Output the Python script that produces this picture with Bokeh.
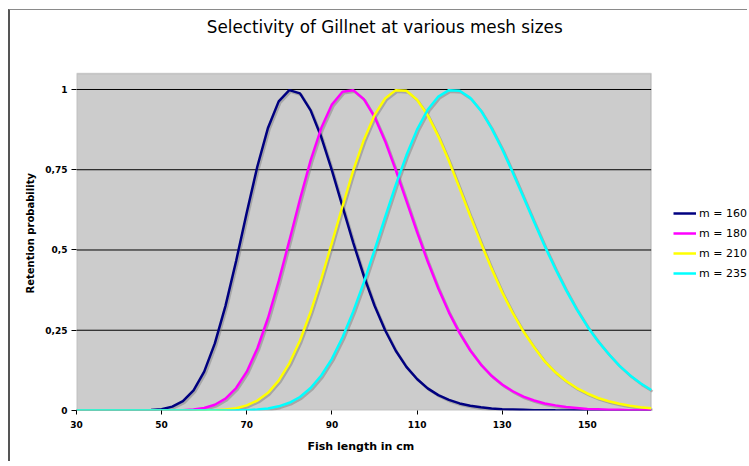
import numpy as np
from bokeh.plotting import figure
from bokeh.models import (BoxAnnotation, FixedTicker, Label, Legend, LegendItem,
                          Range1d, Title)
from bokeh.embed import file_html
from bokeh.resources import INLINE

# ---------------- data ----------------
lengths = [30, 32.5, 35, 37.5, 40, 42.5, 45, 47.5, 50, 52.5, 55, 57.5, 60, 62.5, 65,
           67.5, 70, 72.5, 75, 77.5, 80, 82.5, 85, 87.5, 90, 92.5, 95, 97.5, 100,
           102.5, 105, 107.5, 110, 112.5, 115, 117.5, 120, 122.5, 125, 127.5, 130,
           132.5, 135, 137.5, 140, 142.5, 145, 147.5, 150, 152.5, 155, 157.5, 160,
           162.5, 165]

r160 = [0, 0, 0, 0, 0, 0.0001, 0.0003, 0.0012, 0.004, 0.012, 0.029, 0.063, 0.121,
        0.209, 0.326, 0.466, 0.617, 0.761, 0.881, 0.963, 0.998, 0.988, 0.935, 0.852,
        0.748, 0.635, 0.523, 0.419, 0.327, 0.250, 0.186, 0.136, 0.098, 0.069, 0.048,
        0.033, 0.022, 0.015, 0.010, 0.006, 0.004, 0.003, 0.002, 0.001, 0.001, 0.0004,
        0.0003, 0.0002, 0.0001, 0, 0, 0, 0, 0, 0]

r180 = [0, 0, 0, 0, 0, 0, 0, 0, 0.0001, 0.0003, 0.001, 0.003, 0.008, 0.018, 0.037,
        0.070, 0.121, 0.194, 0.289, 0.403, 0.529, 0.658, 0.779, 0.880, 0.953, 0.993,
        0.998, 0.970, 0.915, 0.839, 0.749, 0.653, 0.556, 0.464, 0.380, 0.305, 0.241,
        0.187, 0.143, 0.108, 0.081, 0.060, 0.043, 0.031, 0.022, 0.016, 0.011, 0.008,
        0.005, 0.004, 0.002, 0.002, 0.001, 0.001, 0.0005]

r210 = [0, 0, 0, 0, 0, 0, 0, 0, 0, 0, 0, 0.0001, 0.0004, 0.001, 0.003, 0.007, 0.016,
        0.031, 0.055, 0.093, 0.147, 0.218, 0.307, 0.410, 0.522, 0.637, 0.747, 0.843,
        0.920, 0.972, 0.998, 0.996, 0.968, 0.920, 0.854, 0.777, 0.692, 0.606, 0.522,
        0.442, 0.368, 0.303, 0.246, 0.197, 0.153, 0.119, 0.092, 0.070, 0.053, 0.039,
        0.029, 0.021, 0.015, 0.010, 0.007]

r235 = [0, 0, 0, 0, 0, 0, 0, 0, 0, 0, 0, 0, 0, 0.0001, 0.0002, 0.0005, 0.001, 0.003,
        0.006, 0.013, 0.024, 0.042, 0.070, 0.109, 0.161, 0.228, 0.308, 0.399, 0.499,
        0.602, 0.703, 0.795, 0.875, 0.937, 0.978, 0.998, 0.996, 0.974, 0.934, 0.879,
        0.814, 0.741, 0.664, 0.587, 0.512, 0.441, 0.375, 0.315, 0.262, 0.216, 0.176,
        0.140, 0.110, 0.085, 0.064]

series_values = [r160, r180, r210, r235]
series_names = ["m = 160", "m = 180", "m = 210", "m = 235"]
series_colors = ["#000080", "#FF00FF", "#FFFF00", "#00FFFF"]

x_min, x_max = 30, 165          # extent of the grey plot area (fish length)
y_min, y_max = 0, 1.05          # extent of the grey plot area (probability)
x_ticks = [30, 50, 70, 90, 110, 130, 150]
x_tick_labels = ["30", "50", "70", "90", "110", "130", "150"]
y_ticks = [0, 0.25, 0.5, 0.75, 1]
y_tick_labels = ["0", "0,25", "0,5", "0,75", "1"]

title_text = "Selectivity of Gillnet at various mesh sizes"
x_title = "Fish length in cm"
y_title = "Retention probability"

FONT = "DejaVu Sans"

# ---------------- figure ----------------
# The frame is extended to the right and upwards so that the legend and the
# chart title (outside the grey plot area) are drawn inside it.
p = figure(width=739, height=452, output_backend="svg", toolbar_location=None,
           x_range=Range1d(x_min, 188.1), y_range=Range1d(y_min, 1.2461),
           min_border_left=66, min_border_right=0, min_border_top=0,
           min_border_bottom=52)
p.styles = {"margin-left": "8px", "margin-top": "9px",
            "border-left": "2px solid #555555", "border-top": "1px solid #8a8a8a"}
p.background_fill_color = "white"
p.border_fill_color = "white"
p.outline_line_color = None

# grey plot area
p.add_layout(BoxAnnotation(left=x_min, right=x_max, bottom=y_min, top=y_max,
                           fill_color="#cccccc", fill_alpha=1.0,
                           line_color="#808080", line_width=1.5, level="underlay"))

# horizontal grid lines, limited to the grey area
p.xgrid.visible = False
p.ygrid.visible = False
grid_y = y_ticks[1:]
p.segment(x0=[x_min] * len(grid_y), x1=[x_max] * len(grid_y), y0=grid_y, y1=grid_y,
          line_color="black", line_width=1)

# axes
p.xaxis.ticker = FixedTicker(ticks=x_ticks, minor_ticks=[])
p.xaxis.major_label_overrides = dict(zip(x_ticks, x_tick_labels))
p.yaxis.ticker = FixedTicker(ticks=y_ticks, minor_ticks=[])
p.yaxis.major_label_overrides = dict(zip(y_ticks, y_tick_labels))
for ax in (p.xaxis[0], p.yaxis[0]):
    ax.major_label_text_font = FONT
    ax.major_label_text_font_size = "9px"
    ax.major_label_text_font_style = "bold"
    ax.major_label_text_color = "black"
    ax.major_tick_in = 0
    ax.major_tick_line_color = "black"
    ax.minor_tick_line_color = None
    ax.axis_line_color = None
p.xaxis.major_tick_out = 4
p.yaxis.major_tick_out = 5
p.xaxis.major_label_standoff = 6
p.yaxis.major_label_standoff = 4

# axis titles as side titles
xtitle = Title(text=x_title, align="left", offset=231, text_font=FONT,
               text_font_size="11px", text_font_style="bold", text_color="black",
               standoff=15)
p.add_layout(xtitle, "below")
ytitle = Title(text=y_title, align="left", offset=117, text_font=FONT,
               text_font_size="10px", text_font_style="bold", text_color="black",
               standoff=13)
p.add_layout(ytitle, "left")

# chart title
p.add_layout(Label(x=102.4, y=1.1953, text=title_text, text_align="center",
                   text_baseline="middle", text_font=FONT, text_font_size="16.8px",
                   text_color="black"))

# lines with soft shadow
x_arr = np.array(lengths, dtype=float)
items = []
for vals in series_values:
    y_arr = np.array(vals, dtype=float)
    p.line(x_arr + 0.35, y_arr - 0.005, line_color="#777777", line_alpha=0.45,
           line_width=2.5)
for vals, name, color in zip(series_values, series_names, series_colors):
    r = p.line(x_arr, np.array(vals, dtype=float), line_color=color, line_width=2.5)
    items.append(LegendItem(label=name, renderers=[r]))

legend = Legend(items=items, location=(597, 127))
legend.border_line_alpha = 0
legend.background_fill_alpha = 0
legend.padding = 0
legend.margin = 0
legend.spacing = 0
legend.glyph_width = 23
legend.glyph_height = 20
legend.label_height = 20
legend.label_standoff = 3
legend.label_text_font = FONT
legend.label_text_font_size = "11px"
legend.label_text_color = "black"
p.add_layout(legend, "center")

open("out.html", "w").write(file_html(p, INLINE))
